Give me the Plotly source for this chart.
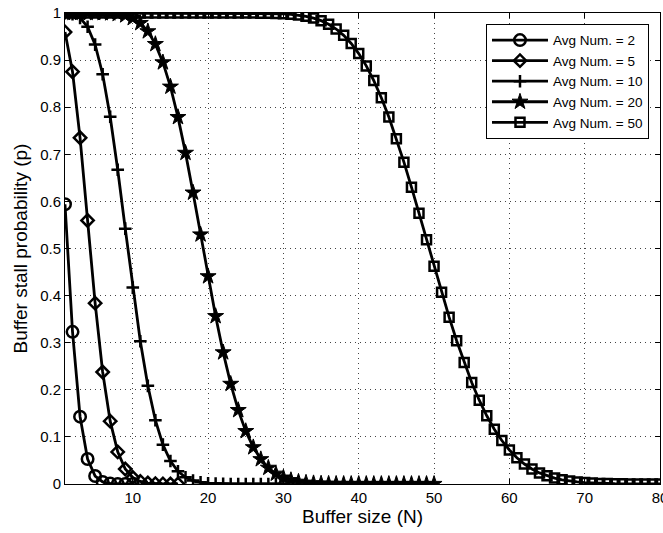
import plotly.graph_objects as go

# Buffer size N (x) and stall probability p (y) for each average number
n_avg2 = list(range(1, 11))
p_avg2 = [0.594, 0.323, 0.143, 0.053, 0.017, 0.0045, 0.0011, 0.0002, 0.00005, 0.00001]

n_avg5 = list(range(1, 17))
p_avg5 = [0.9596, 0.8753, 0.7350, 0.5595, 0.3840, 0.2378, 0.1334, 0.0681, 0.0318,
          0.0137, 0.0055, 0.0020, 0.0007, 0.0002, 0.00007, 0.00002]

n_avg10 = list(range(1, 31))
p_avg10 = [0.9995, 0.9972, 0.9897, 0.9707, 0.9329, 0.8699, 0.7798, 0.6672, 0.5421, 0.4170,
           0.3032, 0.2084, 0.1355, 0.0835, 0.0487, 0.0270, 0.0143, 0.0072, 0.0035, 0.0016,
           0.0007, 0.0003, 0.0001, 0.00005, 0.00002, 0.00001, 0.0, 0.0, 0.0, 0.0]

n_avg20 = list(range(1, 51))
p_avg20 = [1.0, 1.0, 1.0, 1.0, 0.9999, 0.9997, 0.9992, 0.9979, 0.9950, 0.9892,
           0.9786, 0.9610, 0.9339, 0.8951, 0.8435, 0.7789, 0.7030, 0.6186, 0.5297, 0.4409,
           0.3563, 0.2794, 0.2125, 0.1568, 0.1122, 0.0779, 0.0525, 0.0343, 0.0218, 0.0135,
           0.0081, 0.0047, 0.0027, 0.0015, 0.0008, 0.0004, 0.0002, 0.0001, 0.00005, 0.00003,
           0.0, 0.0, 0.0, 0.0, 0.0, 0.0, 0.0, 0.0, 0.0, 0.0]

n_avg50 = list(range(1, 81))
p_avg50 = [1.0, 1.0, 1.0, 1.0, 1.0, 1.0, 1.0, 1.0, 1.0, 1.0,
           1.0, 1.0, 1.0, 1.0, 1.0, 1.0, 1.0, 1.0, 1.0, 1.0,
           1.0, 1.0, 1.0, 1.0, 0.9999, 0.9999, 0.9997, 0.9995, 0.9991, 0.9984,
           0.9973, 0.9956, 0.9930, 0.9892, 0.9838, 0.9762, 0.9660, 0.9526, 0.9354, 0.9139,
           0.8877, 0.8565, 0.8202, 0.7790, 0.7331, 0.6833, 0.6303, 0.5751, 0.5188, 0.4625,
           0.4073, 0.3542, 0.3041, 0.2577, 0.2155, 0.1779, 0.1449, 0.1164, 0.0923, 0.0722,
           0.0557, 0.0424, 0.0318, 0.0236, 0.0173, 0.0125, 0.0089, 0.0062, 0.0043, 0.0030,
           0.0020, 0.0013, 0.0009, 0.0006, 0.0004, 0.0002, 0.0001, 0.0001, 0.0001, 0.0]

series_names = ["Avg Num. = 2", "Avg Num. = 5", "Avg Num. = 10", "Avg Num. = 20", "Avg Num. = 50"]
x_ticks = [10, 20, 30, 40, 50, 60, 70, 80]
y_ticks = [0, 0.1, 0.2, 0.3, 0.4, 0.5, 0.6, 0.7, 0.8, 0.9, 1]
y_tick_text = ["0", "0.1", "0.2", "0.3", "0.4", "0.5", "0.6", "0.7", "0.8", "0.9", "1"]

# (x, y, symbol, size, marker line width)
data = [
    (n_avg2, p_avg2, "circle-open", 11.5, 2.5),
    (n_avg5, p_avg5, "diamond-open", 9.5, 2.5),
    (n_avg10, p_avg10, "cross-thin-open", 9, 2.5),
    (n_avg20, p_avg20, "star", 12, 1),
    (n_avg50, p_avg50, "square-open", 9, 2.5),
]

fig = go.Figure()
for (xs, ys, sym, sz, lw), name in zip(data, series_names):
    fig.add_trace(go.Scatter(
        x=xs, y=ys, name=name, mode="lines+markers",
        line=dict(color="black", width=2.8),
        marker=dict(symbol=sym, size=sz, color="black",
                    line=dict(color="black", width=lw)),
    ))

axis_common = dict(
    showline=True, linecolor="black", linewidth=1, mirror="ticks",
    ticks="inside", ticklen=5, tickcolor="black",
    showgrid=True, gridcolor="#444444", griddash="1px,4px", gridwidth=1,
    zeroline=False, tickfont=dict(size=15, color="black"),
    automargin=False, ticklabeloverflow="allow",
)

fig.update_layout(
    width=663, height=533,
    margin=dict(l=65, r=3, t=13, b=49),
    paper_bgcolor="white", plot_bgcolor="white",
    font=dict(family="Liberation Sans, Arial, sans-serif", color="black", size=15),
    xaxis=dict(range=[1, 80], tickvals=x_ticks,
               title=dict(text="Buffer size (N)", font=dict(size=19), standoff=3),
               **axis_common),
    yaxis=dict(range=[0, 1], tickvals=y_ticks, ticktext=y_tick_text,
               title=dict(text="Buffer stall probability (p)", font=dict(size=19), standoff=7),
               **axis_common),
    legend=dict(x=0.9815, y=0.977, xanchor="right", yanchor="top",
                bgcolor="white", bordercolor="black", borderwidth=1,
                font=dict(size=13.5), tracegroupgap=0, itemwidth=56),
    showlegend=True,
)

# remove the default page margin so the figure sits at the window's top-left corner
fig.write_html("out.html", config={"displayModeBar": False},
               post_script="document.body.style.margin='0';")
